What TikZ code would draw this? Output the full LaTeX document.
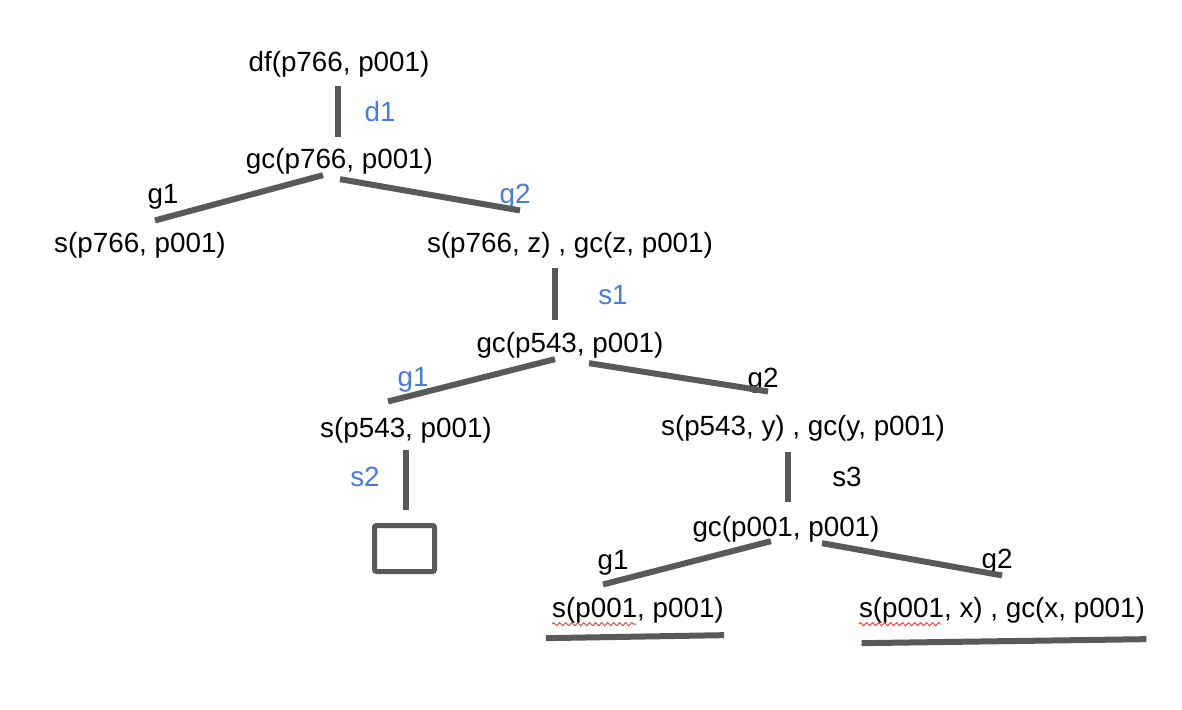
\documentclass[tikz,border=0pt]{standalone}
\usepackage{fontspec}
\setmainfont{Liberation Sans}
\usetikzlibrary{decorations.pathmorphing}
\definecolor{branchgray}{RGB}{89,89,89}
\definecolor{lblblue}{RGB}{74,123,214}
\definecolor{spellred}{RGB}{224,64,58}
\tikzset{
  term/.style={anchor=base,inner sep=0pt,font=\fontsize{13.9}{16}\selectfont},
  lbl/.style={inner sep=0pt,font=\fontsize{13.9}{16}\selectfont},
  blbl/.style={lbl,text=lblblue},
  branch/.style={draw=branchgray,line width=3pt},
  wavy/.style={draw=spellred,line width=0.45pt,decorate,decoration={snake,amplitude=0.8pt,segment length=3pt}}
}

\begin{document}
\begin{tikzpicture}[x=0.5pt,y=-0.5pt]
\useasboundingbox (0,0) rectangle (1182,710);

\node[term] (df) at (339,72) {df(p766, p001)};
\node[term] (gcA) at (339.5,169) {gc(p766, p001)};
\node[term] (sA) at (140,253) {s(p766, p001)};
\node[term] (sB) at (570,253) {s(p766, z) , gc(z, p001)};
\node[term] (gcB) at (570,353) {gc(p543, p001)};
\node[term] (sC) at (406,438) {s(p543, p001)};
\node[term] (sD) at (803,436) {s(p543, y) , gc(y, p001)};
\node[term] (gcC) at (786,536) {gc(p001, p001)};
\node[term] (sE) at (638,617) {s(p001, p001)};
\node[term] (sF) at (1002,617) {s(p001, x) , gc(x, p001)};
\node[draw=branchgray,line width=2.5pt,rounded corners=1pt,inner sep=0pt,minimum width=30pt,minimum height=23pt] (empty) at (404.5,548.5) {};

\node[blbl] (d1) at (380,112) {d1};
\node[lbl] (g1A) at (163,197) {g1};
\node[blbl] (g2A) at (515,197) {g2};
\node[blbl] (s1) at (613,295) {s1};
\node[blbl] (g1B) at (413,380) {g1};
\node[lbl] (g2B) at (763,381) {g2};
\node[blbl] (s2) at (365,477) {s2};
\node[lbl] (s3) at (847,477) {s3};
\node[lbl] (g1C) at (613,563) {g1};
\node[lbl] (g2C) at (997,562) {g2};

\draw[branch] ([shift={(-1,8)}]df.south) -- ([shift={(-1.5,-11)}]gcA.north);
\draw[branch] ([shift={(-16.5,0)}]gcA.south) -- ([shift={(15,-12)}]sA.north);
\draw[branch] ([shift={(0.5,4)}]gcA.south) -- ([shift={(-50,-22)}]sB.north);
\draw[branch] ([shift={(-15,9)}]sB.south) -- ([shift={(-15,-12)}]gcB.north);
\draw[branch] ([shift={(-15,0)}]gcB.south) -- ([shift={(-18,-16)}]sC.north);
\draw[branch] ([shift={(19,4)}]gcB.south) -- ([shift={(-35,-24)}]sD.north);
\draw[branch] ([shift={(0,6)}]sC.south) -- ([shift={(1.5,-13)}]empty.north);
\draw[branch] ([shift={(-15,10)}]sD.south) -- ([shift={(2,-13)}]gcC.north);
\draw[branch] ([shift={(-15,-1)}]gcC.south) -- ([shift={(-35,-12)}]sE.north);
\draw[branch] ([shift={(36,1)}]gcC.south) -- ([shift={(0,-21)}]sF.north);
\draw[branch] ([shift={(-6,15)}]sE.south west) -- ([shift={(0,12)}]sE.south east);
\draw[branch] ([shift={(3,20)}]sF.south west) -- ([shift={(1,16)}]sF.south east);

\draw[wavy] ([shift={(0,1)}]sE.south west) -- ++(84,0);
\draw[wavy] ([shift={(0,1)}]sF.south west) -- ++(82,0);

\end{tikzpicture}
\end{document}
